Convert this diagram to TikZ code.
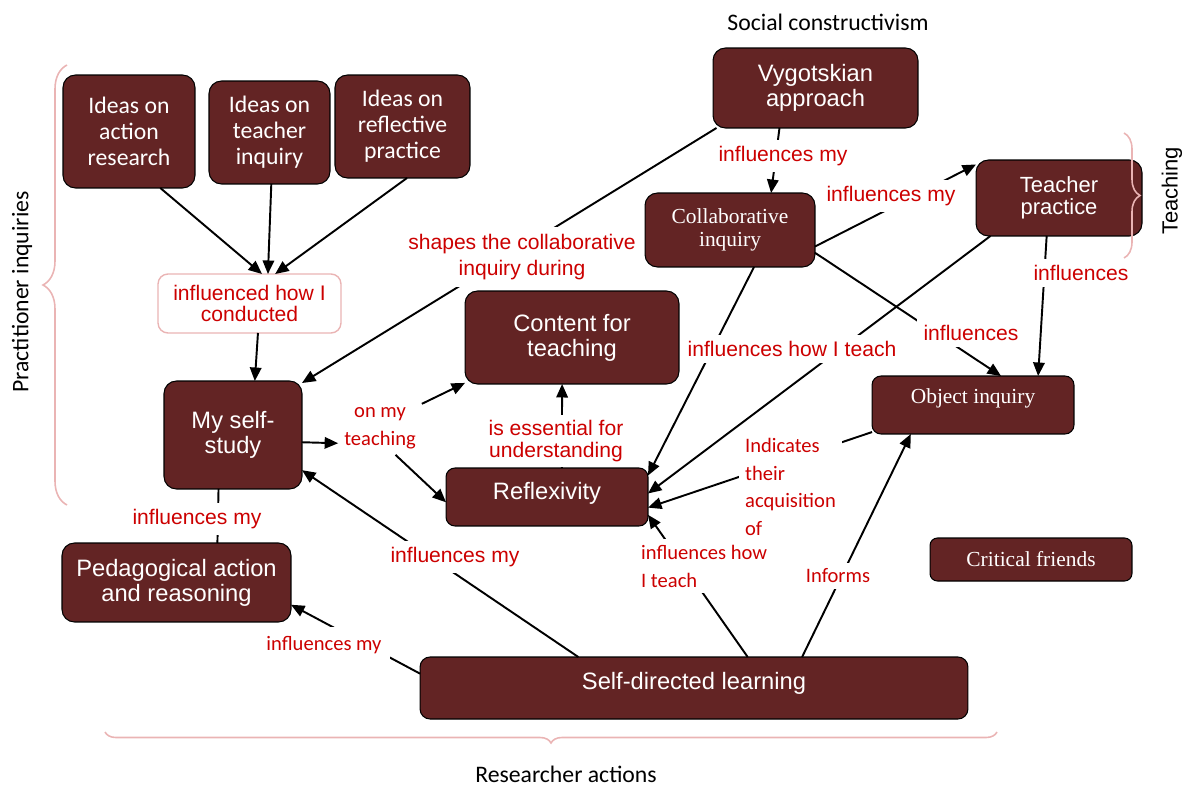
\documentclass[tikz,border=0pt]{standalone}
\usepackage{fontspec}
\setmainfont{Liberation Sans}
\newfontfamily\calib{Carlito}
\newfontfamily\tnr{Liberation Serif}
\usetikzlibrary{arrows.meta}
\usetikzlibrary{decorations.pathreplacing}
\definecolor{boxred}{RGB}{99,36,36}
\definecolor{linkred}{RGB}{204,0,0}
\definecolor{bracepink}{RGB}{234,180,180}

\begin{document}
\begin{tikzpicture}[x=0.02cm, y=-0.02cm, outer sep=0,
    box/.style={draw, line width=0.6pt, rounded corners=0.25cm, fill=boxred, text=white, align=center, font=\fontsize{13.5}{14.2}\selectfont},
    ideas/.style={box, font=\calib\fontsize{13.5}{14.7}\selectfont},
    serifbox/.style={box, rounded corners=0.18cm, font=\tnr\fontsize{12.2}{12.8}\selectfont},
    link/.style={fill=white, text=linkred, align=center, inner sep=3.5pt, font=\fontsize{12}{15.3}\selectfont},
    clink/.style={link, font=\calib\fontsize{11.7}{15.7}\selectfont},
    conn/.style={line width=1.1pt},
    arr/.style={conn, -{Triangle[length=0.27cm, width=0.23cm]}},
    brc/.style={bracepink, line width=0.9pt, decorate, decoration={brace, amplitude=#1}}]
    \useasboundingbox (0,0) rectangle (1189,787);
        \node [ideas, minimum width=2.64cm, minimum height=2.26cm] (1) at (129,131.5) {Ideas on\\action\\research};
        \node [ideas, minimum width=2.42cm, minimum height=2.06cm] (2) at (269.5,132.5) {Ideas on\\teacher\\inquiry};
        \node [ideas, minimum width=2.7cm, minimum height=2.06cm] (3) at (402.5,126.5) {Ideas on\\reflective\\practice};
        \node [link, draw=bracepink, line width=0.8pt, rounded corners=0.2cm, font=\fontsize{12}{12}\selectfont, minimum width=3.66cm, minimum height=1.18cm] (4) at (249.5,303.5) {influenced how I\\conducted};
        \node [box, minimum width=2.76cm, minimum height=2.16cm] (5) at (233,435) {My self-\\study};
        \node [box, minimum width=4.1cm, minimum height=1.6cm] (6) at (815.5,88) {Vygotskian\\approach};
        \node [serifbox, rounded corners=0.25cm, minimum width=3.4cm, minimum height=1.48cm] (7) at (730,230) {Collaborative\\inquiry};
        \node [box, font=\fontsize{12.5}{12.8}\selectfont, minimum width=3.32cm, minimum height=1.52cm] (8) at (1059,198) {Teacher\\practice};
        \node [box, minimum width=4.28cm, minimum height=1.86cm] (9) at (572,337.5) {Content for\\teaching};
        \node [serifbox, minimum width=4.04cm, minimum height=1.16cm, text depth=10.6pt] (10) at (973,405) {Object inquiry};
        \node [box, rounded corners=0.18cm, minimum width=4.04cm, minimum height=1.16cm, text depth=7.4pt] (11) at (547,497) {Reflexivity};
        \node [box, minimum width=4.58cm, minimum height=1.58cm] (12) at (176.5,582.5) {Pedagogical action\\and reasoning};
        \node [box, rounded corners=0.2cm, minimum width=10.96cm, minimum height=1.24cm, text depth=8.5pt] (13) at (694,688) {Self-directed learning};
        \node [serifbox, rounded corners=0.15cm, minimum width=4.04cm, minimum height=0.86cm] (14) at (1031,559.5) {Critical friends};
        \node [clink, font=\calib\fontsize{11.7}{15.9}\selectfont] (l7) at (380,428) {on my\\teaching};
        \draw[arr] (1.-61) -- (4.67);
        \draw[arr] (2.-88) -- (4.58);
        \draw[arr] (3.-85) -- (4.49);
        \draw[arr] (4.-74) -- (5.68);
        \draw[arr] (6.202) -- (5.37);
        \draw[arr] (6.228) -- (7.42);
        \draw[arr] (7.-11) -- (8.158);
        \draw[arr] (7.-15) -- (10.46);
        \draw[arr] (8.252) -- (10.24);
        \draw[arr] (8.209) -- (11.2);
        \draw[arr] (7.-57) -- (11.12);
        \draw[arr] (5.-6) -- (l7.200);
        \draw[arr] (l7.30) -- (9.203);
        \draw[arr] (l7.-60) -- (11.183);
        \draw[arr] (11.63) -- (9.258);
        \draw[arr] (10.195) -- (11.-6);
        \draw[arr] (13.30) -- (11.-10);
        \draw[arr] (13.16) -- (10.205);
        \draw[arr] (13.165) -- (5.-27);
        \draw[conn] (5.255) -- (12.44);
        \draw[arr] (13.177) -- (12.-11);
        \node [link, inner sep=4pt] (l1) at (522,257) {shapes the collaborative\\inquiry during};
        \node [link] (l2) at (783,156) {influences my};
        \node [link] (l3) at (891,196) {influences my};
        \node [link] (l4) at (1081,273) {influences};
        \node [link] (l5) at (971,333) {influences};
        \node [link] (l6) at (792,349) {influences how I teach};
        \node [link, inner sep=3pt, font=\fontsize{12}{12.5}\selectfont] (l8) at (556,441) {is essential for\\understanding};
        \node [clink, align=left, anchor=west] (l9) at (739,487) {Indicates\\their\\acquisition\\of};
        \node [clink, align=left, anchor=west, font=\calib\fontsize{11.7}{15.9}\selectfont] (l10) at (635,566) {influences how\\I teach};
        \node [clink] (l11) at (838,576) {Informs};
        \node [link] (l12) at (197,519) {influences my};
        \node [link] (l13) at (455,557) {influences my};
        \node [clink, inner sep=5pt] (l14) at (324,645) {influences my};
        \node [font=\calib\fontsize{13.5}{16}\selectfont] (sc) at (828,22) {Social constructivism};
        \node [font=\calib\fontsize{13.5}{16}\selectfont, rotate=90] (pi) at (22,292) {Practitioner inquiries};
        \node [font=\fontsize{12.5}{15}\selectfont, rotate=90] (te) at (1172,191) {Teaching};
        \node [font=\calib\fontsize{13.5}{16}\selectfont, inner sep=1pt] (ra) at (566,774) {Researcher actions};
        \draw[brc=0.48cm] (67,505) -- (67,65);
        \draw[brc=0.32cm] (1124,133) -- (1124,258);
        \draw[brc=0.22cm] (997,732) -- (105,732);
    \end{tikzpicture}
\end{document}
